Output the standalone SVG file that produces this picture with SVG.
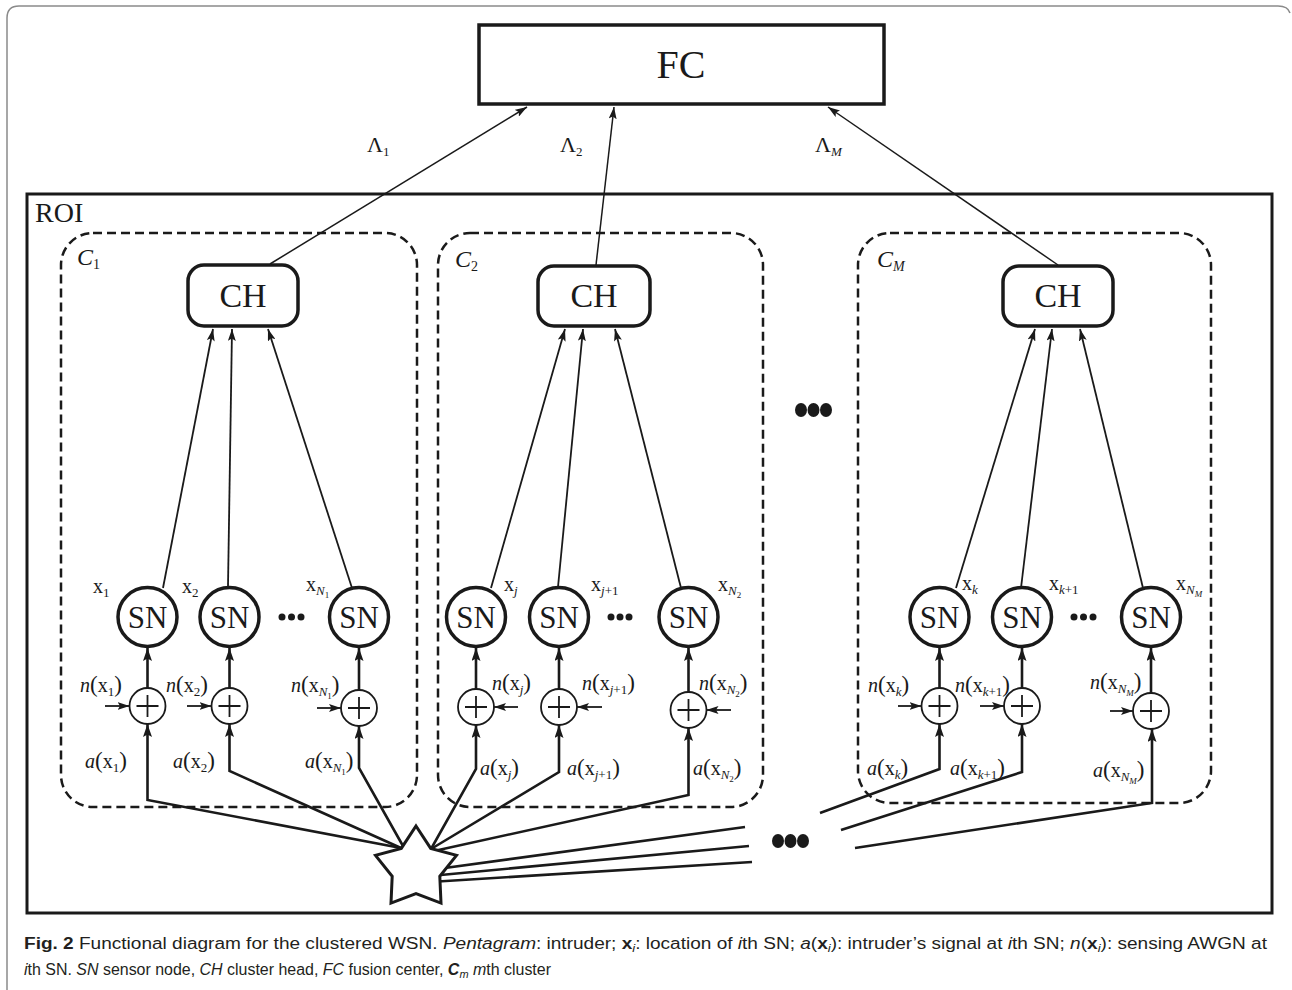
<svg xmlns="http://www.w3.org/2000/svg" width="1292" height="990" viewBox="0 0 1292 990">
<defs>
<style>
.t{font-family:"Liberation Serif","Times New Roman",serif;fill:#1a1a1a}
.cap{font-family:"Liberation Sans",Arial,sans-serif;font-size:16px;fill:#231f20}
.i{font-style:italic}
.b{font-weight:bold}
.lb{font-size:20px}
.sb{font-size:13px}
.ss{font-size:9px}
.p{font-size:23px}
.sn{fill:#fff;stroke:#1a1a1a;stroke-width:3.5}
.pl{fill:#fff;stroke:#1a1a1a;stroke-width:1.8}
.pm{fill:none;stroke:#1a1a1a;stroke-width:1.8}
.ch{fill:#fff;stroke:#1a1a1a;stroke-width:3.5}
.cl{fill:none;stroke:#1a1a1a;stroke-width:2.5;stroke-dasharray:9 5}
.thin{fill:none;stroke:#1a1a1a;stroke-width:1.5}
.mid{fill:none;stroke:#1a1a1a;stroke-width:1.8}
.thk{fill:none;stroke:#1a1a1a;stroke-width:2.6}
.dot{fill:#1a1a1a}
</style>
<marker id="ah" viewBox="0 0 13 9" refX="13" refY="4.5" markerWidth="13" markerHeight="9" orient="auto" markerUnits="userSpaceOnUse"><path d="M0,0 L13,4.5 L0,9 L2.5,4.5 z" fill="#1a1a1a"/></marker>
<marker id="ahs" viewBox="0 0 12 8" refX="12" refY="4" markerWidth="12" markerHeight="8" orient="auto" markerUnits="userSpaceOnUse"><path d="M0,0 L12,4 L0,8 L2.5,4 z" fill="#1a1a1a"/></marker>
</defs>
<rect width="1292" height="990" fill="#fff"/>
<path d="M7,990 V18 Q7,6 19,6 H1278 Q1288,6 1290,13" fill="none" stroke="#8a8a8a" stroke-width="1.5"/>

<g id="FC">
<rect x="479" y="25" width="405" height="79" fill="#fff" stroke="#1a1a1a" stroke-width="3.5"/>
<text class="t" x="681" y="78" font-size="40" text-anchor="middle">FC</text>
</g>

<g id="ROI">
<rect x="27" y="194" width="1245" height="719" fill="none" stroke="#1a1a1a" stroke-width="3"/>
<text class="t" x="35" y="222" font-size="28">ROI</text>
</g>

<g id="clusters">
<g id="cluster1"><rect class="cl" x="61" y="233" width="356" height="574" rx="32"/>
<text class="t" x="77" y="265" font-size="24"><tspan class="i">C</tspan><tspan font-size="14" dy="4">1</tspan></text></g>
<g id="cluster2"><rect class="cl" x="438" y="233" width="325" height="574" rx="32"/>
<text class="t" x="455" y="267" font-size="24"><tspan class="i">C</tspan><tspan font-size="14" dy="4">2</tspan></text></g>
<g id="clusterM"><rect class="cl" x="858" y="233" width="353" height="570" rx="32"/>
<text class="t" x="877" y="267" font-size="24"><tspan class="i">C</tspan><tspan font-size="14" dy="4" class="i">M</tspan></text></g>
</g>

<g id="connectors">
<!-- CH to FC -->
<line class="thin" x1="270" y1="264" x2="527" y2="107" marker-end="url(#ahs)"/>
<line class="thin" x1="596" y1="265" x2="614" y2="107" marker-end="url(#ahs)"/>
<line class="thin" x1="1058" y1="265" x2="828" y2="107" marker-end="url(#ahs)"/>
<!-- SN to CH -->
<line class="mid" x1="163" y1="588" x2="213" y2="329" marker-end="url(#ahs)"/>
<line class="mid" x1="228" y1="587" x2="232" y2="329" marker-end="url(#ahs)"/>
<line class="mid" x1="352" y1="588" x2="268" y2="329" marker-end="url(#ahs)"/>
<line class="mid" x1="491" y1="588" x2="565" y2="329" marker-end="url(#ahs)"/>
<line class="mid" x1="558" y1="587" x2="583" y2="329" marker-end="url(#ahs)"/>
<line class="mid" x1="681" y1="588" x2="615" y2="329" marker-end="url(#ahs)"/>
<line class="mid" x1="956" y1="588" x2="1035" y2="329" marker-end="url(#ahs)"/>
<line class="mid" x1="1021" y1="588" x2="1052" y2="329" marker-end="url(#ahs)"/>
<line class="mid" x1="1143" y1="588" x2="1080" y2="329" marker-end="url(#ahs)"/>
<!-- plus to SN -->
<line class="thk" x1="147.5" y1="688" x2="147.5" y2="648" marker-end="url(#ah)"/>
<line class="thk" x1="229.5" y1="688" x2="229.5" y2="648" marker-end="url(#ah)"/>
<line class="thk" x1="359" y1="690" x2="359" y2="648" marker-end="url(#ah)"/>
<line class="thk" x1="476" y1="689" x2="476" y2="648" marker-end="url(#ah)"/>
<line class="thk" x1="559" y1="689" x2="559" y2="648" marker-end="url(#ah)"/>
<line class="thk" x1="688.5" y1="692" x2="688.5" y2="648" marker-end="url(#ah)"/>
<line class="thk" x1="939.5" y1="688" x2="939.5" y2="648" marker-end="url(#ah)"/>
<line class="thk" x1="1022" y1="688" x2="1022" y2="648" marker-end="url(#ah)"/>
<line class="thk" x1="1151" y1="693" x2="1151" y2="648" marker-end="url(#ah)"/>
<!-- noise -->
<line class="mid" x1="105" y1="706" x2="129.5" y2="706" marker-end="url(#ahs)"/>
<line class="mid" x1="187" y1="706" x2="211.5" y2="706" marker-end="url(#ahs)"/>
<line class="mid" x1="317" y1="708" x2="341" y2="708" marker-end="url(#ahs)"/>
<line class="mid" x1="518" y1="707" x2="494" y2="707" marker-end="url(#ahs)"/>
<line class="mid" x1="602" y1="707" x2="577" y2="707" marker-end="url(#ahs)"/>
<line class="mid" x1="731" y1="710" x2="706.5" y2="710" marker-end="url(#ahs)"/>
<line class="mid" x1="898" y1="706" x2="921.5" y2="706" marker-end="url(#ahs)"/>
<line class="mid" x1="980" y1="706" x2="1004" y2="706" marker-end="url(#ahs)"/>
<line class="mid" x1="1110" y1="711" x2="1133" y2="711" marker-end="url(#ahs)"/>
<!-- signal -->
<polyline class="thk" points="401,848 147.5,800 147.5,724" marker-end="url(#ah)"/>
<polyline class="thk" points="401,848 229.5,771 229.5,724" marker-end="url(#ah)"/>
<polyline class="thk" points="403,846 359,768 359,726" marker-end="url(#ah)"/>
<polyline class="thk" points="431,849 476,769 476,725" marker-end="url(#ah)"/>
<polyline class="thk" points="431,849 559,772 559,725" marker-end="url(#ah)"/>
<polyline class="thk" points="434,851 688.5,795 688.5,728" marker-end="url(#ah)"/>
<polyline class="thk" points="820,813 939.5,769 939.5,724" marker-end="url(#ah)"/>
<polyline class="thk" points="841,830 1022,772 1022,724" marker-end="url(#ah)"/>
<polyline class="thk" points="855,848 1152,803 1152,729" marker-end="url(#ah)"/>
<line class="thk" x1="430" y1="870" x2="745" y2="827"/>
<line class="thk" x1="430" y1="876" x2="749" y2="846"/>
<line class="thk" x1="430" y1="882" x2="752" y2="862"/>
</g>

<g id="intruder">
<polygon points="416,826 430.7,848.4 456.5,855.4 439.8,876.3 441,903.1 416,893.6 391,903.1 392.2,876.3 375.5,855.4 401.3,848.4" fill="#fff" stroke="#1a1a1a" stroke-width="3" stroke-linejoin="miter"/>
</g>

<g id="CH1"><rect class="ch" x="188" y="265" width="110" height="61" rx="16"/><text class="t" x="243" y="307" font-size="34" text-anchor="middle">CH</text></g>
<g id="CH2"><rect class="ch" x="538" y="266" width="112" height="60" rx="16"/><text class="t" x="594" y="307" font-size="34" text-anchor="middle">CH</text></g>
<g id="CHM"><rect class="ch" x="1003" y="266" width="110" height="60" rx="16"/><text class="t" x="1058" y="307" font-size="34" text-anchor="middle">CH</text></g>

<g id="SN1"><circle class="sn" cx="147.5" cy="617" r="29.5"/><text class="t" x="147.5" y="628" font-size="31" text-anchor="middle">SN</text></g>
<g id="SN2"><circle class="sn" cx="229.5" cy="617" r="29.5"/><text class="t" x="229.5" y="628" font-size="31" text-anchor="middle">SN</text></g>
<g id="SNN1"><circle class="sn" cx="359" cy="617" r="29.5"/><text class="t" x="359" y="628" font-size="31" text-anchor="middle">SN</text></g>
<g id="SNj"><circle class="sn" cx="476" cy="617" r="29.5"/><text class="t" x="476" y="628" font-size="31" text-anchor="middle">SN</text></g>
<g id="SNj1"><circle class="sn" cx="559" cy="617" r="29.5"/><text class="t" x="559" y="628" font-size="31" text-anchor="middle">SN</text></g>
<g id="SNN2"><circle class="sn" cx="688.5" cy="617" r="29.5"/><text class="t" x="688.5" y="628" font-size="31" text-anchor="middle">SN</text></g>
<g id="SNk"><circle class="sn" cx="939.5" cy="617" r="29.5"/><text class="t" x="939.5" y="628" font-size="31" text-anchor="middle">SN</text></g>
<g id="SNk1"><circle class="sn" cx="1022" cy="617" r="29.5"/><text class="t" x="1022" y="628" font-size="31" text-anchor="middle">SN</text></g>
<g id="SNNM"><circle class="sn" cx="1151" cy="617" r="29.5"/><text class="t" x="1151" y="628" font-size="31" text-anchor="middle">SN</text></g>

<g id="sum1"><circle class="pl" cx="147.5" cy="706" r="18"/><path class="pm" d="M136.5,706h22M147.5,695v22"/></g>
<g id="sum2"><circle class="pl" cx="229.5" cy="706" r="18"/><path class="pm" d="M218.5,706h22M229.5,695v22"/></g>
<g id="sumN1"><circle class="pl" cx="359" cy="708" r="18"/><path class="pm" d="M348,708h22M359,697v22"/></g>
<g id="sumj"><circle class="pl" cx="476" cy="707" r="18"/><path class="pm" d="M465,707h22M476,696v22"/></g>
<g id="sumj1"><circle class="pl" cx="559" cy="707" r="18"/><path class="pm" d="M548,707h22M559,696v22"/></g>
<g id="sumN2"><circle class="pl" cx="688.5" cy="710" r="18"/><path class="pm" d="M677.5,710h22M688.5,699v22"/></g>
<g id="sumk"><circle class="pl" cx="939.5" cy="706" r="18"/><path class="pm" d="M928.5,706h22M939.5,695v22"/></g>
<g id="sumk1"><circle class="pl" cx="1022" cy="706" r="18"/><path class="pm" d="M1011,706h22M1022,695v22"/></g>
<g id="sumNM"><circle class="pl" cx="1151" cy="711" r="18"/><path class="pm" d="M1140,711h22M1151,700v22"/></g>

<g id="dots">
<circle class="dot" cx="282" cy="617" r="3.5"/><circle class="dot" cx="291.5" cy="617" r="3.5"/><circle class="dot" cx="301" cy="617" r="3.5"/>
<circle class="dot" cx="611" cy="617" r="3.5"/><circle class="dot" cx="620" cy="617" r="3.5"/><circle class="dot" cx="629" cy="617" r="3.5"/>
<circle class="dot" cx="1074" cy="617" r="3.5"/><circle class="dot" cx="1083.5" cy="617" r="3.5"/><circle class="dot" cx="1093" cy="617" r="3.5"/>
<ellipse class="dot" cx="801" cy="410" rx="6" ry="7"/><ellipse class="dot" cx="813.5" cy="410" rx="6" ry="7"/><ellipse class="dot" cx="826" cy="410" rx="6" ry="7"/>
<ellipse class="dot" cx="778" cy="841" rx="6" ry="7"/><ellipse class="dot" cx="790.5" cy="841" rx="6" ry="7"/><ellipse class="dot" cx="803" cy="841" rx="6" ry="7"/>
</g>

<g id="lambda-labels" class="t" font-size="22">
<text x="367" y="152">Λ<tspan class="sb" dy="4">1</tspan></text>
<text x="560" y="152">Λ<tspan class="sb" dy="4">2</tspan></text>
<text x="815" y="152">Λ<tspan class="sb i" dy="4">M</tspan></text>
</g>

<g id="labels" class="t lb">
<text x="93" y="593">x<tspan class="sb" dy="4">1</tspan></text>
<text x="182" y="593">x<tspan class="sb" dy="4">2</tspan></text>
<text x="306" y="591">x<tspan class="sb i" dy="4">N</tspan><tspan class="ss" dy="3">1</tspan></text>
<text x="504" y="591">x<tspan class="sb i" dy="4">j</tspan></text>
<text x="591" y="591">x<tspan class="sb" dy="4"><tspan class="i">j</tspan>+1</tspan></text>
<text x="718" y="591">x<tspan class="sb i" dy="4">N</tspan><tspan class="ss" dy="3">2</tspan></text>
<text x="962" y="590">x<tspan class="sb i" dy="4">k</tspan></text>
<text x="1049" y="590">x<tspan class="sb" dy="4"><tspan class="i">k</tspan>+1</tspan></text>
<text x="1176" y="590">x<tspan class="sb i" dy="4">N</tspan><tspan class="ss i" dy="3">M</tspan></text>

<text x="80" y="692"><tspan class="i">n</tspan><tspan class="p">(</tspan>x<tspan class="sb" dy="4">1</tspan><tspan class="p" dy="-4">)</tspan></text>
<text x="166" y="692"><tspan class="i">n</tspan><tspan class="p">(</tspan>x<tspan class="sb" dy="4">2</tspan><tspan class="p" dy="-4">)</tspan></text>
<text x="291" y="692"><tspan class="i">n</tspan><tspan class="p">(</tspan>x<tspan class="sb i" dy="4">N</tspan><tspan class="ss" dy="3">1</tspan><tspan class="p" dy="-7">)</tspan></text>
<text x="492" y="690"><tspan class="i">n</tspan><tspan class="p">(</tspan>x<tspan class="sb i" dy="4">j</tspan><tspan class="p" dy="-4">)</tspan></text>
<text x="582" y="690"><tspan class="i">n</tspan><tspan class="p">(</tspan>x<tspan class="sb" dy="4"><tspan class="i">j</tspan>+1</tspan><tspan class="p" dy="-4">)</tspan></text>
<text x="699" y="690"><tspan class="i">n</tspan><tspan class="p">(</tspan>x<tspan class="sb i" dy="4">N</tspan><tspan class="ss" dy="3">2</tspan><tspan class="p" dy="-7">)</tspan></text>
<text x="868" y="692"><tspan class="i">n</tspan><tspan class="p">(</tspan>x<tspan class="sb i" dy="4">k</tspan><tspan class="p" dy="-4">)</tspan></text>
<text x="955" y="692"><tspan class="i">n</tspan><tspan class="p">(</tspan>x<tspan class="sb" dy="4"><tspan class="i">k</tspan>+1</tspan><tspan class="p" dy="-4">)</tspan></text>
<text x="1090" y="689"><tspan class="i">n</tspan><tspan class="p">(</tspan>x<tspan class="sb i" dy="4">N</tspan><tspan class="ss i" dy="3">M</tspan><tspan class="p" dy="-7">)</tspan></text>

<text x="85" y="768"><tspan class="i">a</tspan><tspan class="p">(</tspan>x<tspan class="sb" dy="4">1</tspan><tspan class="p" dy="-4">)</tspan></text>
<text x="173" y="768"><tspan class="i">a</tspan><tspan class="p">(</tspan>x<tspan class="sb" dy="4">2</tspan><tspan class="p" dy="-4">)</tspan></text>
<text x="305" y="768"><tspan class="i">a</tspan><tspan class="p">(</tspan>x<tspan class="sb i" dy="4">N</tspan><tspan class="ss" dy="3">1</tspan><tspan class="p" dy="-7">)</tspan></text>
<text x="480" y="775"><tspan class="i">a</tspan><tspan class="p">(</tspan>x<tspan class="sb i" dy="4">j</tspan><tspan class="p" dy="-4">)</tspan></text>
<text x="567" y="775"><tspan class="i">a</tspan><tspan class="p">(</tspan>x<tspan class="sb" dy="4"><tspan class="i">j</tspan>+1</tspan><tspan class="p" dy="-4">)</tspan></text>
<text x="693" y="775"><tspan class="i">a</tspan><tspan class="p">(</tspan>x<tspan class="sb i" dy="4">N</tspan><tspan class="ss" dy="3">2</tspan><tspan class="p" dy="-7">)</tspan></text>
<text x="867" y="775"><tspan class="i">a</tspan><tspan class="p">(</tspan>x<tspan class="sb i" dy="4">k</tspan><tspan class="p" dy="-4">)</tspan></text>
<text x="950" y="775"><tspan class="i">a</tspan><tspan class="p">(</tspan>x<tspan class="sb" dy="4"><tspan class="i">k</tspan>+1</tspan><tspan class="p" dy="-4">)</tspan></text>
<text x="1093" y="777"><tspan class="i">a</tspan><tspan class="p">(</tspan>x<tspan class="sb i" dy="4">N</tspan><tspan class="ss i" dy="3">M</tspan><tspan class="p" dy="-7">)</tspan></text>
</g>

<g id="caption">
<text class="cap" x="24" y="949" textLength="1243" lengthAdjust="spacingAndGlyphs"><tspan class="b">Fig. 2</tspan> Functional diagram for the clustered WSN. <tspan class="i">Pentagram</tspan>: intruder; <tspan class="b">x</tspan><tspan class="i" font-size="11" dy="3">i</tspan><tspan dy="-3">: location of </tspan><tspan class="i">i</tspan>th SN; <tspan class="i">a</tspan>(<tspan class="b">x</tspan><tspan class="i" font-size="11" dy="3">i</tspan><tspan dy="-3">): intruder’s signal at </tspan><tspan class="i">i</tspan>th SN; <tspan class="i">n</tspan>(<tspan class="b">x</tspan><tspan class="i" font-size="11" dy="3">i</tspan><tspan dy="-3">): sensing AWGN at</tspan></text>
<text class="cap" x="24" y="975" textLength="527" lengthAdjust="spacingAndGlyphs"><tspan class="i">i</tspan>th SN. <tspan class="i">SN</tspan> sensor node, <tspan class="i">CH</tspan> cluster head, <tspan class="i">FC</tspan> fusion center, <tspan class="i b">C</tspan><tspan class="i" font-size="11" dy="3">m</tspan><tspan dy="-3"> </tspan><tspan class="i">m</tspan>th cluster</text>
</g>
</svg>
